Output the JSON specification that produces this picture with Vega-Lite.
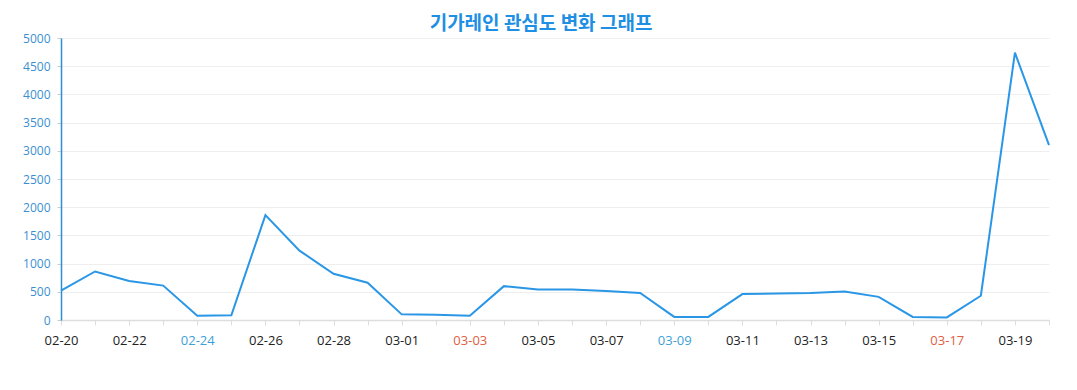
{
  "$schema": "https://vega.github.io/schema/vega-lite/v6.json",
  "width": 988,
  "height": 282,
  "autosize": "none",
  "padding": {"left": 61, "top": 38, "right": 28, "bottom": 70},
  "background": "white",
  "title": {
    "text": "기가레인 관심도 변화 그래프",
    "font": "Noto Sans CJK KR",
    "fontSize": 19,
    "fontWeight": "bold",
    "color": "#1f8fe3",
    "anchor": "middle",
    "dx": -14,
    "offset": -2
  },
  "config": {
    "view": {"stroke": null},
    "font": "Open Sans"
  },
  "data": {
    "values": [
      {"d": "02-20", "v": 520},
      {"d": "02-21", "v": 860},
      {"d": "02-22", "v": 690},
      {"d": "02-23", "v": 610},
      {"d": "02-24", "v": 75},
      {"d": "02-25", "v": 85},
      {"d": "02-26", "v": 1860},
      {"d": "02-27", "v": 1230},
      {"d": "02-28", "v": 820},
      {"d": "02-29", "v": 660},
      {"d": "03-01", "v": 100},
      {"d": "03-02", "v": 95},
      {"d": "03-03", "v": 75},
      {"d": "03-04", "v": 600},
      {"d": "03-05", "v": 540},
      {"d": "03-06", "v": 540},
      {"d": "03-07", "v": 515},
      {"d": "03-08", "v": 480},
      {"d": "03-09", "v": 55},
      {"d": "03-10", "v": 55},
      {"d": "03-11", "v": 460},
      {"d": "03-12", "v": 470},
      {"d": "03-13", "v": 480},
      {"d": "03-14", "v": 505},
      {"d": "03-15", "v": 410},
      {"d": "03-16", "v": 55},
      {"d": "03-17", "v": 45},
      {"d": "03-18", "v": 430},
      {"d": "03-19", "v": 4740},
      {"d": "03-20", "v": 3100}
    ]
  },
  "mark": {"type": "line", "color": "#2a96e6", "strokeWidth": 2},
  "encoding": {
    "x": {
      "field": "d",
      "type": "ordinal",
      "sort": null,
      "scale": {"type": "point", "padding": 0},
      "axis": {
        "title": null,
        "labelAngle": 0,
        "labelFontSize": 13,
        "labelFont": "Open Sans",
        "labelColor": {
          "condition": [
            {"test": "datum.value=='02-24'||datum.value=='03-09'", "value": "#3d9fd6"},
            {"test": "datum.value=='03-03'||datum.value=='03-17'", "value": "#e0603f"}
          ],
          "value": "#222222"
        },
        "labelPadding": 9,
        "tickSize": 5,
        "tickColor": "#dddddd",
        "domainColor": "#dddddd",
        "domainWidth": 1.5,
        "grid": false,
        "labelExpr": "indexof(['02-20','02-22','02-24','02-26','02-28','03-01','03-03','03-05','03-07','03-09','03-11','03-13','03-15','03-17','03-19'], datum.value) >= 0 ? datum.value : ''",
        "labelOverlap": false
      }
    },
    "y": {
      "field": "v",
      "type": "quantitative",
      "scale": {"domain": [0, 5000], "nice": false},
      "axis": {
        "title": null,
        "format": "d",
        "values": [0, 500, 1000, 1500, 2000, 2500, 3000, 3500, 4000, 4500, 5000],
        "labelFontSize": 12,
        "labelFont": "Open Sans",
        "labelColor": "#3a8fd0",
        "labelPadding": 7,
        "tickSize": 4,
        "tickColor": "#cccccc",
        "domainColor": "#2a8fd8",
        "domainWidth": 1.5,
        "gridColor": "#eeeeee",
        "gridWidth": 1
      }
    }
  }
}
